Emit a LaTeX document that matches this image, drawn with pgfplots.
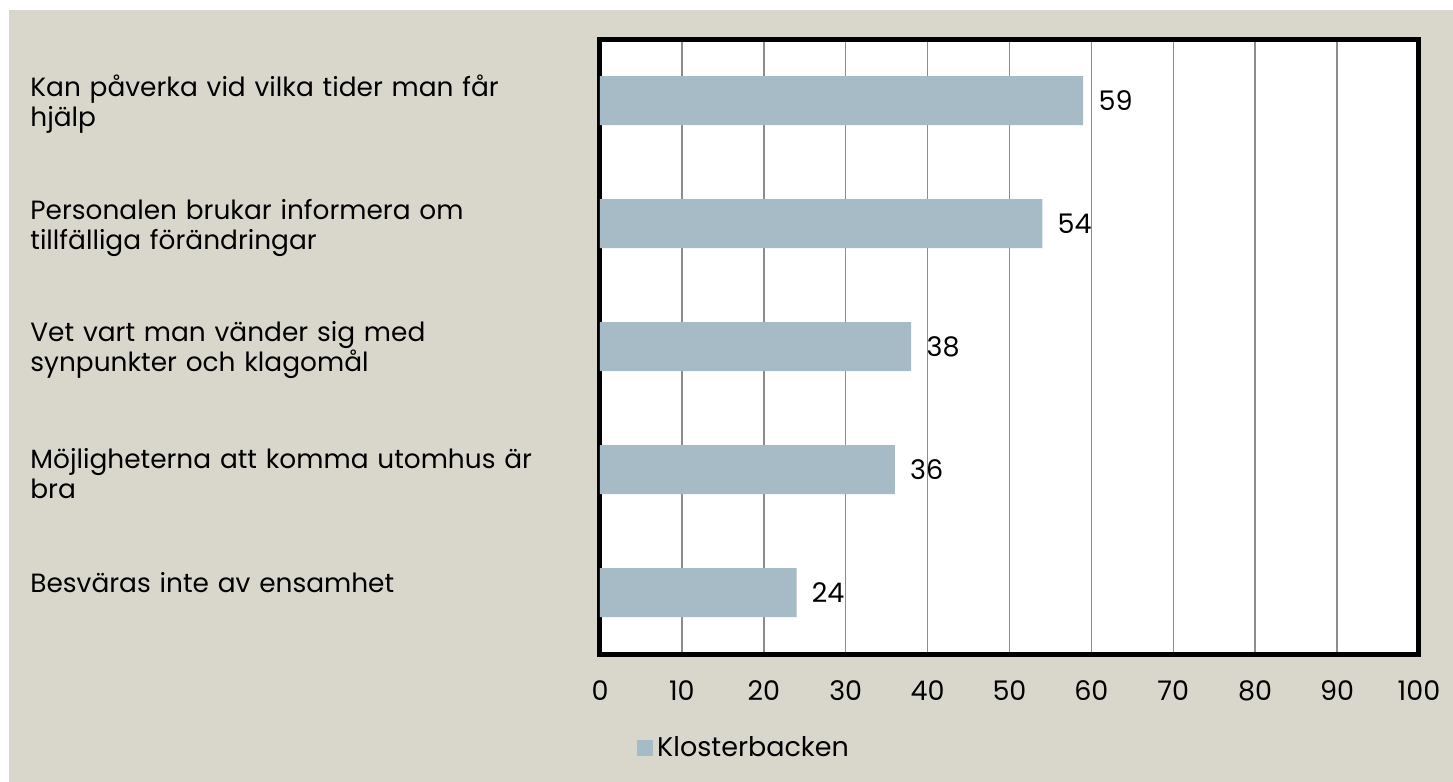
\documentclass[border=0pt]{standalone}
\usepackage{pgfplots}
\pgfplotsset{compat=1.18}
\usepackage{fontspec}
\setmainfont{Poppins}
\definecolor{bg}{HTML}{D9D7CB}
\definecolor{barc}{HTML}{A7BBC6}
\definecolor{gridc}{HTML}{8C8C8C}
\begin{document}
\begin{tikzpicture}
\useasboundingbox (0,0) rectangle (726.5pt,391pt);
\fill[white] (0,0) rectangle (726.5pt,391pt);
\fill[bg] (4.5pt,0) rectangle (726.5pt,386pt);
\begin{axis}[
  at={(300pt,64pt)}, anchor=south west,
  scale only axis, width=409.5pt, height=307.5pt,
  xbar, bar width=24.5pt,
  xmin=0, xmax=100, xtick={0,10,...,100},
  ymin=-0.5, ymax=4.5, y dir=reverse, ytick={0,1,2,3,4},
  yticklabels={Kan påverka vid vilka tider man får\\hjälp,
    Personalen brukar informera om\\tillfälliga förändringar,
    Vet vart man vänder sig med\\synpunkter och klagomål,
    Möjligheterna att komma utomhus är\\bra,
    \raisebox{14pt}{Besväras inte av ensamhet}},
  axis background/.style={fill=white},
  axis line style={line width=2.5pt, black},
  xmajorgrids, ymajorgrids=false,
  major grid style={gridc, line width=0.75pt},
  major tick length=0pt,
  tick style={draw=none},
  /pgf/number format/assume math mode=true,
  xticklabel style={anchor=center, yshift=-18.5pt, font=\fontsize{13.5}{15}\selectfont},
  yticklabel style={anchor=west, text width=280pt, align=left, inner sep=0pt, xshift=-285pt, yshift=-2pt, font=\fontsize{13.2}{15}\selectfont},
  nodes near coords,
  nodes near coords style={anchor=west, inner sep=0pt, xshift=7.5pt, font=\fontsize{13.5}{15}\selectfont, black},
  legend style={at={(axis description cs:0.045,-0.153)}, anchor=west, draw=none, fill=none, font=\fontsize{13.5}{15}\selectfont, inner sep=0pt},
]
\addplot[fill=barc, draw=none, legend image code/.code={\fill[barc] (0pt,-4pt) rectangle (8pt,4pt);}]
  coordinates {(59,0) (54,1) (38,2) (36,3) (24,4)};
\addlegendentry{Klosterbacken}
\end{axis}
\end{tikzpicture}
\end{document}
